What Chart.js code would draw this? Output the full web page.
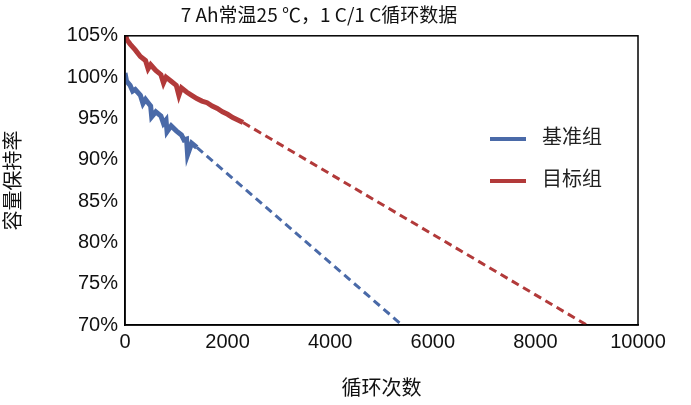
<!DOCTYPE html><html><head><meta charset="utf-8">
<script src="https://cdn.jsdelivr.net/npm/chart.js@4"></script>
<style>body{margin:0;background:#fff;font-family:"Noto Sans CJK SC",sans-serif}
#w{position:relative;width:691px;height:405px}
#lg{position:absolute;left:490px;top:115px;font-size:20px;line-height:42px;color:#222}
#lg span{display:inline-block;width:36px;height:4px;vertical-align:middle;margin-right:16px}
</style></head><body><div id="w"><canvas id="c" width="691" height="405"></canvas>
<div id="lg"><div><span style="background:#4a6aa8"></span>基准组</div><div><span style="background:#b23a3a"></span>目标组</div></div></div>
<script>
const blueX=[0,30,100,150,200,300,350,400,450,500,520,600,700,750,800,820,900,1000,1100,1150,1200,1220,1300,1400];
const blueY=[100.5,99.5,99,98.3,98.5,97.8,96.8,97.3,96.9,96.5,95.2,95.8,95.3,94.4,94.8,93.4,94.1,93.5,93,92.4,92.5,90.6,92,91.5];
const blueDashX=[1400,5400];
const blueDashY=[91.5,70];
const redX=[0,40,100,200,300,400,450,500,600,700,750,800,900,1000,1050,1100,1200,1300,1400,1500,1600,1700,1800,1900,2000,2100,2200,2300];
const redY=[105.3,104.5,104,103.3,102.5,102,101,101.5,100.8,100.3,99.3,100,99.5,99,97.8,98.7,98.2,97.8,97.4,97.1,96.9,96.5,96.2,95.8,95.5,95.1,94.8,94.5];
const redDashX=[2300,9000];
const redDashY=[94.5,70];
const xTicks=[0,2000,4000,6000,8000,10000];
const yTicks=[70,75,80,85,90,95,100,105];
const pts=(xs,ys)=>xs.map((x,i)=>({x,y:ys[i]}));
const B='#4a6aa8',R='#b23a3a';
const NF='"Liberation Sans", Arial, sans-serif';
new Chart(document.getElementById('c'),{type:'line',
data:{datasets:[
{data:pts(blueX,blueY),borderColor:B,borderWidth:5,pointRadius:0,tension:0},
{data:pts(blueDashX,blueDashY),borderColor:B,borderWidth:3,borderDash:[8,5],pointRadius:0},
{data:pts(redX,redY),borderColor:R,borderWidth:5,pointRadius:0,tension:0},
{data:pts(redDashX,redDashY),borderColor:R,borderWidth:3,borderDash:[8,5],pointRadius:0}]},
options:{responsive:false,animation:false,
layout:{padding:{top:0,right:53,bottom:0,left:0}},
plugins:{legend:{display:false},title:{display:true,text:'7 Ah常温25 ℃，1 C/1 C循环数据',color:'#111',font:{size:19,weight:'normal',family:'Noto Sans CJK SC'},padding:{top:3,bottom:10}}},
scales:{
x:{type:'linear',min:0,max:10000,afterBuildTicks:a=>{a.ticks=xTicks.map(v=>({value:v}))},afterFit:a=>{a.height=80},
 grid:{display:false,tickLength:5},border:{color:'#000',width:1.5},
 ticks:{color:'#111',font:{size:20,family:NF},padding:0,callback:v=>String(v)},
 title:{display:true,text:'循环次数',color:'#111',font:{size:20,family:'Noto Sans CJK SC'},padding:{top:4,bottom:6}}},
y:{min:70,max:105,afterBuildTicks:a=>{a.ticks=yTicks.map(v=>({value:v}))},afterFit:a=>{a.width=125},
 grid:{display:false,tickLength:5},border:{color:'#000',width:1.5},
 ticks:{color:'#111',font:{size:20,family:NF},padding:2,callback:v=>v+'%'},
 title:{display:true,text:'容量保持率',color:'#111',font:{size:20,family:'Noto Sans CJK SC'},padding:{top:0,bottom:4}}}}},
plugins:[{id:'frame',afterDraw(c){const a=c.chartArea,x=c.ctx;x.save();x.strokeStyle='#000';x.lineWidth=1.5;x.strokeRect(a.left,a.top,a.right-a.left,a.bottom-a.top);x.restore();}}]
});
</script></body></html>
